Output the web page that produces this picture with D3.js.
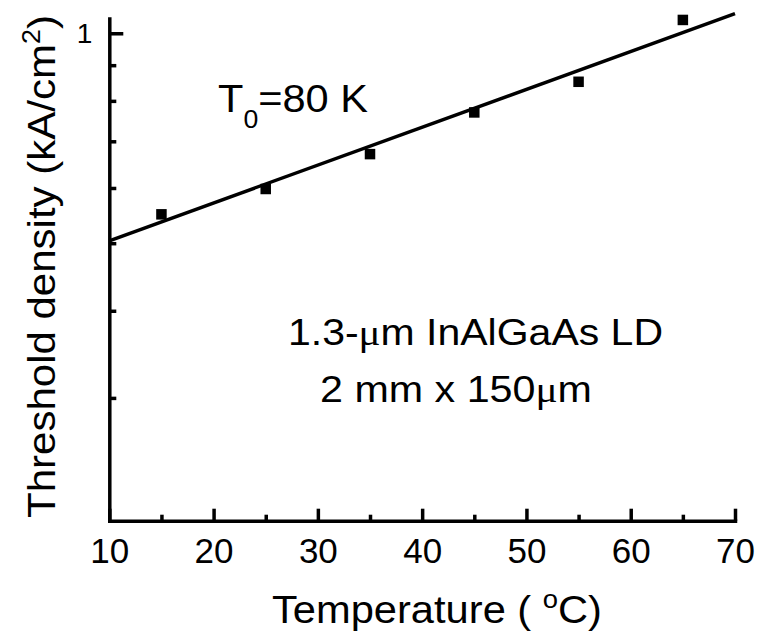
<!DOCTYPE html>
<html>
<head>
<meta charset="utf-8">
<script src="https://cdn.jsdelivr.net/npm/d3@7"></script>
<style>
  body { margin: 0; background: #fff; }
  svg { display: block; font-family: "Liberation Sans", Arial, Helvetica, sans-serif; }
  .axis path, .axis line { stroke: #000; stroke-width: 3.5; }
  .axis text { fill: #000; }
</style>
</head>
<body>
<div id="chart"></div>
<script>
var width = 759, height = 636;

// measured threshold densities (kA/cm2) vs temperature (C)
var temps = [15, 25, 35, 45, 55, 65];
var density = [0.550, 0.598, 0.671, 0.770, 0.852, 1.045];

// exponential fit, T0 = 80 K (straight on the log axis)
var fitTemps = [10, 70];
var fitDensity = [0.504, 1.067];

var xTicks = [10, 20, 30, 40, 50, 60, 70];
var xMinorTicks = [15, 25, 35, 45, 55, 65];
var yTicks = [1];
var yMinorTicks = [0.3, 0.4, 0.5, 0.6, 0.7, 0.8, 0.9];

var serif = "'Liberation Serif', 'Times New Roman', serif";

var svg = d3.select("#chart").append("svg")
    .attr("width", width)
    .attr("height", height);

var x = d3.scaleLinear().domain([10, 70]).range([109.3, 735]);
var y = d3.scaleLog().domain([0.2, 1.05]).range([520.7, 18.5]);

// x axis, ticks pointing inward
var xAxis = svg.append("g")
    .attr("class", "axis")
    .attr("transform", "translate(0," + y(0.2) + ")")
    .call(d3.axisBottom(x).tickValues(xTicks).tickSize(-12).tickSizeOuter(0).tickPadding(17).tickFormat(d3.format("d")));
xAxis.selectAll("text").style("font-size", "35px");

svg.append("g")
    .attr("class", "axis")
    .attr("transform", "translate(0," + y(0.2) + ")")
    .call(d3.axisBottom(x).tickValues(xMinorTicks).tickSize(-6).tickSizeOuter(0).tickFormat(""))
    .select(".domain").remove();

// y axis (log)
var yAxis = svg.append("g")
    .attr("class", "axis")
    .attr("transform", "translate(" + x(10) + ",0)")
    .call(d3.axisLeft(y).tickValues(yTicks).tickSize(-14).tickSizeOuter(0).tickPadding(17).tickFormat(d3.format("d")));
yAxis.selectAll("text").style("font-size", "28px");

svg.append("g")
    .attr("class", "axis")
    .attr("transform", "translate(" + x(10) + ",0)")
    .call(d3.axisLeft(y).tickValues(yMinorTicks).tickSize(-7).tickSizeOuter(0).tickFormat(""))
    .select(".domain").remove();

svg.selectAll(".domain").attr("stroke-linecap", "square");

// fit line
var line = d3.line()
    .x(function (d) { return x(d[0]); })
    .y(function (d) { return y(d[1]); });

svg.append("path")
    .datum(d3.zip(fitTemps, fitDensity))
    .attr("fill", "none")
    .attr("stroke", "#000")
    .attr("stroke-width", 3.5)
    .attr("d", line);

// data points
var sq = 10.5;
svg.selectAll("rect.pt")
    .data(d3.zip(temps, density))
    .enter().append("rect")
    .attr("class", "pt")
    .attr("x", function (d) { return x(d[0]) - sq / 2; })
    .attr("y", function (d) { return y(d[1]) - sq / 2; })
    .attr("width", sq)
    .attr("height", sq)
    .attr("fill", "#000");

// axis titles
var xt = svg.append("text")
    .attr("x", 272)
    .attr("y", 623)
    .attr("textLength", 330)
    .attr("lengthAdjust", "spacingAndGlyphs")
    .style("font-size", "38px");
xt.append("tspan").text("Temperature ( ");
xt.append("tspan").attr("dy", -15).style("font-size", "25px").text("o");
xt.append("tspan").attr("dy", 15).text("C)");

var yt = svg.append("text")
    .attr("transform", "translate(55,518) rotate(-90)")
    .attr("textLength", 503)
    .attr("lengthAdjust", "spacingAndGlyphs")
    .style("font-size", "39px");
yt.append("tspan").text("Threshold density (kA/cm");
yt.append("tspan").attr("dy", -15).style("font-size", "25px").text("2");
yt.append("tspan").attr("dy", 15).text(")");

// annotations
var t0 = svg.append("text")
    .attr("x", 218)
    .attr("y", 112)
    .attr("textLength", 150)
    .attr("lengthAdjust", "spacingAndGlyphs")
    .style("font-size", "39px");
t0.append("tspan").text("T");
t0.append("tspan").attr("dy", 16).style("font-size", "25px").text("0");
t0.append("tspan").attr("dy", -16).text("=80 K");

var a1 = svg.append("text")
    .attr("x", 288)
    .attr("y", 345)
    .attr("textLength", 375)
    .attr("lengthAdjust", "spacingAndGlyphs")
    .style("font-size", "36px");
a1.append("tspan").text("1.3-");
a1.append("tspan").style("font-family", serif).text("\u03bc");
a1.append("tspan").text("m InAlGaAs LD");

var a2 = svg.append("text")
    .attr("x", 320)
    .attr("y", 402)
    .attr("textLength", 272)
    .attr("lengthAdjust", "spacingAndGlyphs")
    .style("font-size", "36px");
a2.append("tspan").text("2 mm x 150");
a2.append("tspan").style("font-family", serif).text("\u03bc");
a2.append("tspan").text("m");
</script>
</body>
</html>
